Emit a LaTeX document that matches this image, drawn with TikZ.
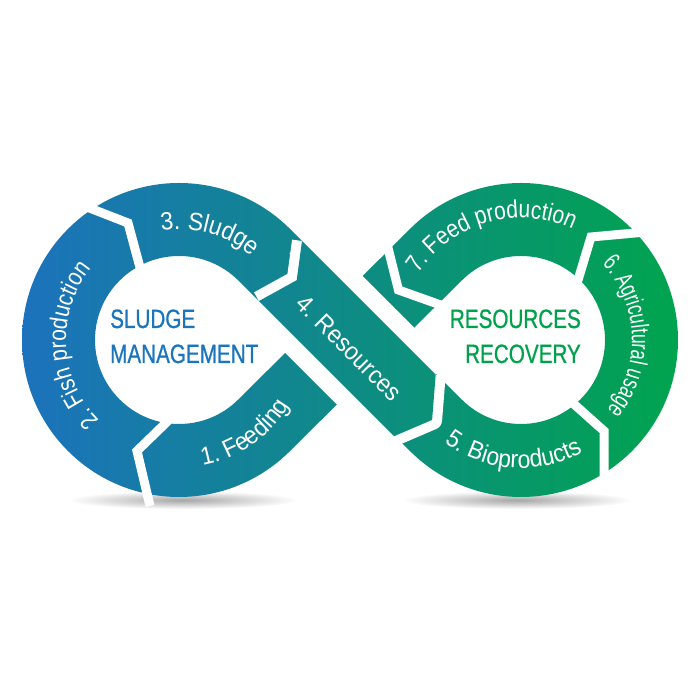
\documentclass[tikz,border=0pt]{standalone}
\usepackage{fontspec}
\setmainfont{Liberation Sans}
\newfontfamily\lblfont{Liberation Sans}[FakeStretch=0.92]
\newfontfamily\lblnarrow{Liberation Sans}[FakeStretch=0.84]
\newfontfamily\lblcond{Liberation Sans}[FakeStretch=0.70]
\newfontfamily\ttlfont{Liberation Sans}[FakeStretch=0.78, FakeBold=0.8]
\usetikzlibrary{calc,positioning,decorations.text}
\definecolor{sludgeblue}{RGB}{27,117,188}
\definecolor{recgreen}{RGB}{0,161,75}
\definecolor{bandleft}{RGB}{28,114,188}
\definecolor{bandmid}{RGB}{18,141,136}
\definecolor{bandright}{RGB}{0,164,78}

\begin{document}
\begin{tikzpicture}[x=1pt, y=1pt,
  band/.style={left color=bandleft, middle color=bandmid, right color=bandright},
  gap/.style={draw=white, line width=9pt, line join=miter},
  seglbl/.style 2 args={decorate, decoration={text along path, text align=center, text color=white,
      text={|#1\fontsize{25}{25}\selectfont|#2}}},
  ttl/.style={inner sep=0pt, font=\ttlfont\fontsize{26.5}{30}\selectfont}
]
\useasboundingbox (0,0) rectangle (700,700);
% Loop centres
\coordinate (L) at (179,360);
\coordinate (R) at (521,360);
% Corners of the two crossing strips
\coordinate (a1) at ($(L)+(45:157)+(135:3)$);
\coordinate (a2) at ($(L)+(45:84)+(135:3)$);
\coordinate (a3) at ($(R)+(225:157)+(-45:3)$);
\coordinate (a4) at ($(R)+(225:84)+(-45:3)$);
\coordinate (b1) at ($(L)+(-45:84)+(225:3)$);
\coordinate (b2) at ($(L)+(-45:157)+(225:3)$);
\coordinate (b3) at ($(R)+(135:84)+(45:3)$);
\coordinate (b4) at ($(R)+(135:157)+(45:3)$);
% Shadows
\shade[inner color=black!35, outer color=white] (183,200) ellipse[x radius=115, y radius=9];
\shade[inner color=black!35, outer color=white] (517,200) ellipse[x radius=115, y radius=9];
% Infinity band
\begin{scope}
\clip ($(L)+(45:157)$) arc[start angle=45, end angle=315, radius=157] -- ($(L)+(315:84)$)
    arc[start angle=315, end angle=45, radius=84] -- cycle
  ($(R)+(225:157)$) arc[start angle=-135, end angle=135, radius=157] -- ($(R)+(135:84)$)
    arc[start angle=135, end angle=-135, radius=84] -- cycle
  (a1) -- (a2) -- (a3) -- (a4) -- cycle
  (b1) -- (b2) -- (b3) -- (b4) -- cycle;
\shade[band] (22,0) rectangle (678,700);
\end{scope}
% Gaps between segments
\draw[gap] (74,498) -- (128,477) -- (142,425);
\draw[gap] (150,194) -- (137,249) -- (174,285);
\draw[gap] (566,303) -- (604,269) -- (604,215);
\draw[gap] (646,468) -- (591,463) -- (575,410);
\draw[gap] (385,464) -- (398.5,410) -- (449,392);
% Resources arrow on top
\coordinate (r1) at (302,459);
\coordinate (r2) at (296.7,419.8);
\coordinate (r3) at (258.9,398.9);
\coordinate (r4) at (394,263.8);
\coordinate (r5) at (432.1,280.1);
\coordinate (r6) at (435.7,325.4);
\draw[white, line width=36pt] (r1) -- (r6) (r3) -- (r4);
\draw[white, line width=20pt, line join=round] (r1) -- (r2) -- (r3) (r6) -- (r5) -- (r4);
\begin{scope}
\clip (r1) -- (r2) -- (r3) -- (r4) -- (r5) -- (r6) -- cycle;
\shade[band] (22,0) rectangle (678,700);
\end{scope}
% Segment labels
\path[seglbl={\lblfont}{1. Feeding}] ($(L)+(235:128)$) arc[start angle=235, end angle=375, radius=128];
\path[seglbl={\lblnarrow}{2. Fish production}] ($(L)+(253:113)$) arc[start angle=253, end angle=113, radius=113];
\path[seglbl={\lblfont}{3. Sludge}] ($(L)+(134:111)$) arc[start angle=134, end angle=14, radius=111];
\node[text=white, font=\lblfont\fontsize{25}{25}\selectfont, rotate=-45, inner sep=0pt] (res4) at (349,352) {4. Resources};
\path[seglbl={\lblfont}{5. Bioproducts}] ($(R)+(196:128)$) arc[start angle=196, end angle=336, radius=128];
\path[seglbl={\lblcond}{6. Agricultural usage}] ($(R)+(72:111)$) arc[start angle=72, end angle=-68, radius=111];
\path[seglbl={\lblnarrow}{7. Feed production}] ($(R)+(176:122)$) arc[start angle=176, end angle=36, radius=122];
% Titles
\node[ttl, text=sludgeblue, anchor=base west] (sludge) at (110,372) {SLUDGE};
\node[ttl, text=sludgeblue, anchor=base west] (mgmt) at (110,337) {MANAGEMENT};
\node[ttl, text=recgreen, anchor=base east] (resrc) at (581,372) {RESOURCES};
\node[ttl, text=recgreen, anchor=base east] (recov) at (581,337) {RECOVERY};
\end{tikzpicture}
\end{document}
